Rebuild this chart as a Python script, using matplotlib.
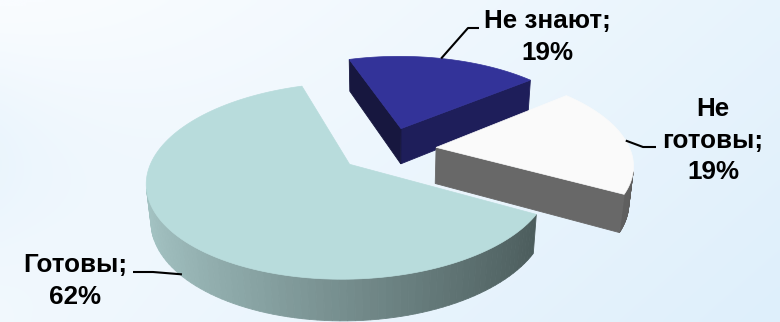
import textwrap

import numpy as np
import matplotlib
matplotlib.use("Agg")
import matplotlib.pyplot as plt
from matplotlib.patches import Polygon
from matplotlib.colors import to_rgb

# data: clockwise from the start angle, like the source chart
categories = ["Не знают", "Не готовы", "Готовы"]
shares = [19, 19, 62]

top_colors = ["#333399", "#FAFAFA", "#B8DCDC"]
side_light = ["#22226A", "#7A7A7A", "#A6C6C6"]
side_dark = ["#1A1A50", "#5E5E5E", "#465656"]
# radial faces: (face at start edge, face at end edge) in ccw terms
radial_colors = [("#1E1E5A", "#17173F"), ("#686868", "#686868"), ("#4A5858", "#4A5858")]

start_angle = 108.0   # degrees, first slice starts here and runs clockwise
explode = 0.25        # radial offset of every slice, in radius units
height = 0.215        # pie thickness, radius units

# camera / projection (screen pixels)
phi = np.radians(27.8)
dist = 5.36
scale = 194.0
cx0, cy0 = 388.0, 149.5

W, H = 780, 322

# labels: centre x, top y of text; leader knee and end
label_pos = [(547, 9), (713, 97), (75, 253)]
label_wrap = [12, 8, 12]
leader_anchor = [(75.0, 0.0), (4.4, 0.0), (222.0, 0.95)]   # (angle deg, depth fraction)
leader_knee = [(468, 28), (643, 147), (153, 272)]
leader_end = [(479, 28), (656, 147), (133, 272)]


def project(x, y, z):
    depth = dist + y * np.cos(phi) - z * np.sin(phi)
    t = dist / depth
    u = cx0 + scale * x * t
    v = cy0 - scale * (y * np.sin(phi) + z * np.cos(phi)) * t
    return u, v


cam = np.array([0.0, -dist * np.cos(phi), dist * np.sin(phi)])


def facing(normal, point):
    return np.dot(normal, cam - point) > 0


def lerp(c1, c2, t):
    a, b = np.array(to_rgb(c1)), np.array(to_rgb(c2))
    return tuple(a * (1 - t) + b * t)


fig = plt.figure(figsize=(W / 100, H / 100), dpi=100)
ax = fig.add_axes([0, 0, 1, 1])
ax.set_xlim(0, W)
ax.set_ylim(H, 0)
ax.axis("off")

# background gradient
gx, gy = np.meshgrid(np.linspace(0, 1, 200), np.linspace(0, 1, 90))
f = 0.75 * gx + 0.35 * gy - 0.1
f += 0.45 * np.exp(-gx * W / 110) * np.exp(-((gy * H - 150) / 110) ** 2)
f = np.clip(f, 0, 1)[..., None]
c_white = np.array([249, 252, 255]) / 255
c_blue = np.array([222, 239, 251]) / 255
bg = c_white * (1 - f) + c_blue * f
ax.imshow(bg, extent=[0, W, H, 0], aspect="auto", zorder=0, interpolation="bicubic")

# slice angle ranges (ccw degrees)
spans = np.array(shares) / sum(shares) * 360.0
ends = start_angle - np.concatenate([[0], np.cumsum(spans)[:-1]])
slices = []
for i in range(len(categories)):
    a1 = ends[i]
    a0 = a1 - spans[i]
    mid = np.radians((a0 + a1) / 2)
    off = np.array([explode * np.cos(mid), explode * np.sin(mid)])
    slices.append((i, a0, a1, off, mid))

# far slices first
slices.sort(key=lambda s: -(s[3][1] + 0.5 * np.sin(s[4])))

z = 10
for i, a0, a1, off, mid in slices:
    th = np.radians(np.linspace(a0, a1, 120))
    ox, oy = off
    # curved outer side
    for k in range(len(th) - 1):
        tm = 0.5 * (th[k] + th[k + 1])
        p = np.array([ox + np.cos(tm), oy + np.sin(tm), -height / 2])
        if not facing(np.array([np.cos(tm), np.sin(tm), 0.0]), p):
            continue
        xs = [ox + np.cos(th[k]), ox + np.cos(th[k + 1]), ox + np.cos(th[k + 1]), ox + np.cos(th[k])]
        ys = [oy + np.sin(th[k]), oy + np.sin(th[k + 1]), oy + np.sin(th[k + 1]), oy + np.sin(th[k])]
        zs = [0, 0, -height, -height]
        u, v = project(np.array(xs), np.array(ys), np.array(zs))
        col = lerp(side_light[i], side_dark[i], (np.cos(tm) + 1) / 2)
        ax.add_patch(Polygon(np.column_stack([u, v]), closed=True, facecolor=col,
                             edgecolor=col, linewidth=0.6, zorder=z))
    # radial faces
    for ang, is_start, col in [(np.radians(a0), True, radial_colors[i][0]),
                               (np.radians(a1), False, radial_colors[i][1])]:
        if is_start:
            n = np.array([np.sin(ang), -np.cos(ang), 0.0])
        else:
            n = np.array([-np.sin(ang), np.cos(ang), 0.0])
        p = np.array([ox + 0.5 * np.cos(ang), oy + 0.5 * np.sin(ang), -height / 2])
        if not facing(n, p):
            continue
        xs = np.array([ox, ox + np.cos(ang), ox + np.cos(ang), ox])
        ys = np.array([oy, oy + np.sin(ang), oy + np.sin(ang), oy])
        zs = np.array([0, 0, -height, -height])
        u, v = project(xs, ys, zs)
        ax.add_patch(Polygon(np.column_stack([u, v]), closed=True, facecolor=col,
                             edgecolor=col, linewidth=0.6, zorder=z + 1))
    # top face
    xs = np.concatenate([[ox], ox + np.cos(th)])
    ys = np.concatenate([[oy], oy + np.sin(th)])
    u, v = project(xs, ys, np.zeros_like(xs))
    ax.add_patch(Polygon(np.column_stack([u, v]), closed=True, facecolor=top_colors[i],
                         edgecolor=top_colors[i], linewidth=0.5, zorder=z + 2))
    z += 3

# labels and leader lines
offsets = {s[0]: s[3] for s in slices}
for i, name in enumerate(categories):
    text = textwrap.fill(name + ";", label_wrap[i]) + f"\n{shares[i]}%"
    ax.text(label_pos[i][0], label_pos[i][1], text, ha="center", va="top",
            fontsize=18.7, fontweight="bold", family=["Liberation Sans", "DejaVu Sans"],
            color="black", linespacing=1.4, zorder=50)
    ang, zf = leader_anchor[i]
    a = np.radians(ang)
    ox, oy = offsets[i]
    au, av = project(ox + np.cos(a), oy + np.sin(a), -zf * height)
    ax.plot([au, leader_knee[i][0], leader_end[i][0]],
            [av, leader_knee[i][1], leader_end[i][1]],
            color="black", linewidth=1.5, solid_capstyle="butt", zorder=49)

fig.savefig("out.png", dpi=100)
